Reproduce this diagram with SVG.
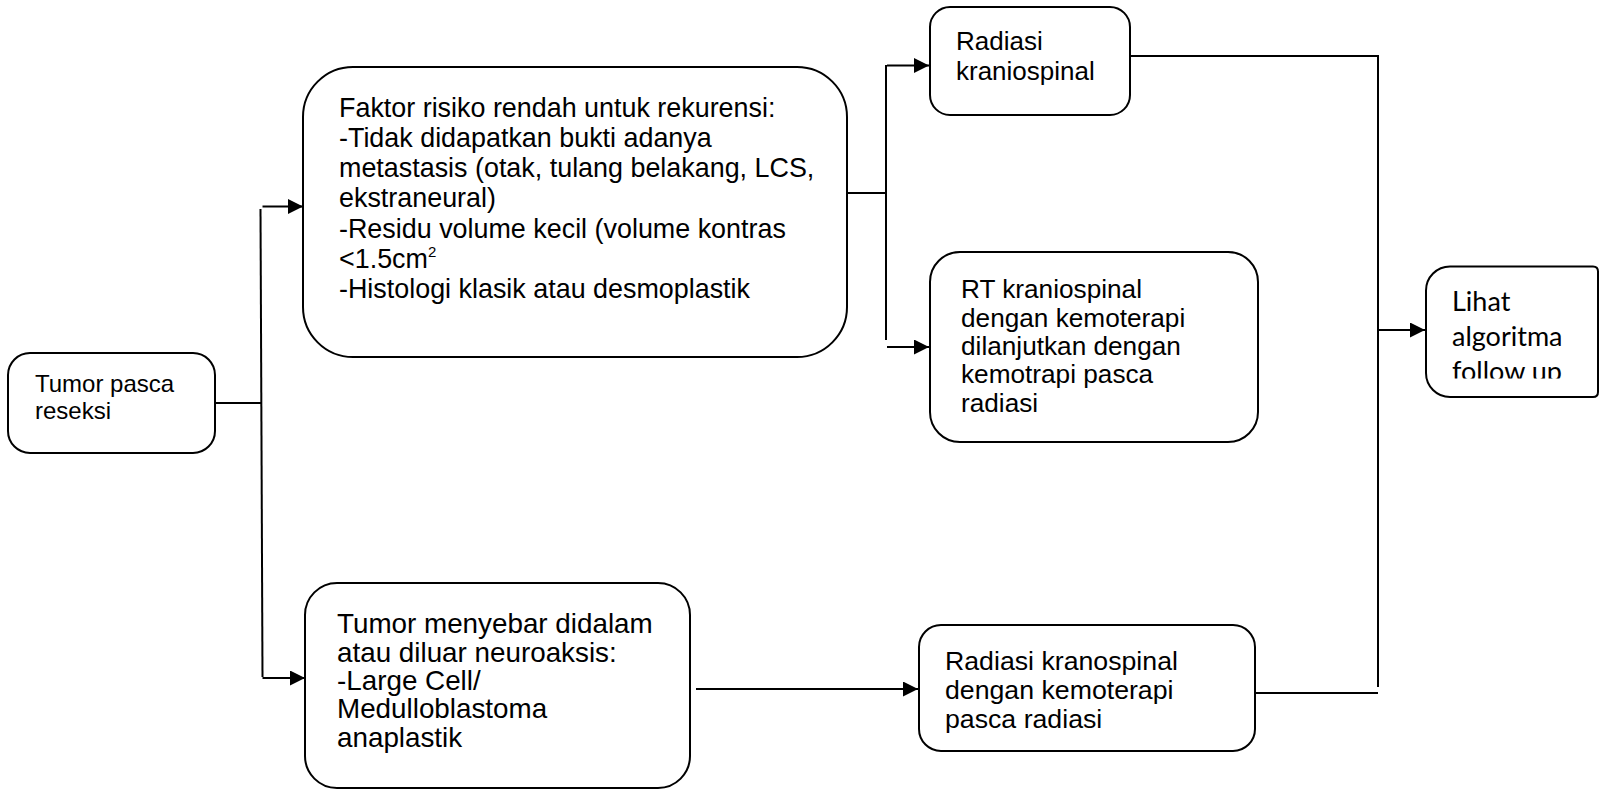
<svg xmlns="http://www.w3.org/2000/svg" width="1599" height="790" viewBox="0 0 1599 790">
  <style>
    .box { fill: #ffffff; stroke: #000000; stroke-width: 2; }
    .lbl { font-family: "Liberation Sans", Arial, sans-serif; fill: #000000; }
    .s24 { font-size: 24px; }
    .s26 { font-size: 26px; }
    .s262 { font-size: 26.2px; }
    .s267 { font-size: 26.7px; }
    .s269 { font-size: 26.9px; }
    .s278 { font-size: 27.8px; }
    .sup { font-size: 15px; }
    .cal { font-family: Lato, "Open Sans", sans-serif; font-size: 27px; fill: #000000; }
    .wire { fill: none; stroke: #000000; stroke-width: 2; }
    .arrow { fill: none; stroke: #000000; stroke-width: 2; marker-end: url(#head); }
  </style>
  <defs>
    <marker id="head" markerUnits="userSpaceOnUse" markerWidth="16" markerHeight="16" refX="15" refY="7.5" orient="auto">
      <path d="M0,0 L15,7.5 L0,15 Z" fill="#000000"/>
    </marker>
    <clipPath id="followClip">
      <rect x="1426" y="266" width="173" height="112.5"/>
    </clipPath>
  </defs>
  <rect width="1599" height="790" fill="#ffffff"/>

  <!-- connectors -->
  <g id="connectors">
    <line class="wire" x1="215" y1="403" x2="261.5" y2="403"/>
    <line class="wire" x1="260.5" y1="209" x2="262.5" y2="677"/>
    <line class="arrow" x1="262.5" y1="206.5" x2="303" y2="206.5"/>
    <line class="arrow" x1="262.5" y1="678" x2="305" y2="678"/>
    <line class="wire" x1="843" y1="193" x2="886" y2="193"/>
    <line class="wire" x1="886" y1="65" x2="886" y2="340"/>
    <line class="arrow" x1="887" y1="65.5" x2="929" y2="65.5"/>
    <line class="arrow" x1="887" y1="347" x2="929" y2="347"/>
    <line class="arrow" x1="696" y1="689" x2="918" y2="689"/>
    <polyline class="wire" points="1131,56 1378,56 1378,687"/>
    <line class="wire" x1="1251" y1="693" x2="1378" y2="693"/>
    <line class="arrow" x1="1379" y1="330" x2="1425" y2="330"/>
  </g>

  <g id="tumor-pasca-reseksi">
    <rect class="box" x="8" y="353" width="207" height="100" rx="22" ry="22"/>
    <text class="lbl s24" x="35" y="392">Tumor pasca</text>
    <text class="lbl s24" x="35" y="419">reseksi</text>
  </g>

  <g id="faktor-risiko-rendah">
    <rect class="box" x="303" y="67" width="544" height="290" rx="50" ry="50"/>
    <text class="lbl s269" x="339" y="117">Faktor risiko rendah untuk rekurensi:</text>
    <text class="lbl s269" x="339" y="147">-Tidak didapatkan bukti adanya</text>
    <text class="lbl s269" x="339" y="177">metastasis (otak, tulang belakang, LCS,</text>
    <text class="lbl s269" x="339" y="207">ekstraneural)</text>
    <text class="lbl s269" x="339" y="238">-Residu volume kecil (volume kontras</text>
    <text class="lbl s269" x="339" y="268">&lt;1.5cm<tspan class="sup" dy="-11">2</tspan></text>
    <text class="lbl s269" x="339" y="298">-Histologi klasik atau desmoplastik</text>
  </g>

  <g id="tumor-menyebar">
    <rect class="box" x="305" y="583" width="385" height="205" rx="32" ry="32"/>
    <text class="lbl s278" x="337" y="633">Tumor menyebar didalam</text>
    <text class="lbl s278" x="337" y="662">atau diluar neuroaksis:</text>
    <text class="lbl s278" x="337" y="690">-Large Cell/</text>
    <text class="lbl s278" x="337" y="718">Medulloblastoma</text>
    <text class="lbl s278" x="337" y="747">anaplastik</text>
  </g>

  <g id="radiasi-kraniospinal">
    <rect class="box" x="930" y="7" width="200" height="108" rx="20" ry="20"/>
    <text class="lbl s26" x="956" y="50">Radiasi</text>
    <text class="lbl s26" x="956" y="80">kraniospinal</text>
  </g>

  <g id="rt-kraniospinal">
    <rect class="box" x="930" y="252" width="328" height="190" rx="30" ry="30"/>
    <text class="lbl s262" x="961" y="298">RT kraniospinal</text>
    <text class="lbl s262" x="961" y="327">dengan kemoterapi</text>
    <text class="lbl s262" x="961" y="355">dilanjutkan dengan</text>
    <text class="lbl s262" x="961" y="383">kemotrapi pasca</text>
    <text class="lbl s262" x="961" y="412">radiasi</text>
  </g>

  <g id="radiasi-kranospinal">
    <rect class="box" x="919" y="625" width="336" height="126" rx="22" ry="22"/>
    <text class="lbl s267" x="945" y="670">Radiasi kranospinal</text>
    <text class="lbl s267" x="945" y="699">dengan kemoterapi</text>
    <text class="lbl s267" x="945" y="728">pasca radiasi</text>
  </g>

  <g id="lihat-algoritma">
    <path class="box" d="M1450,266.5 H1593 Q1598,266.5 1598,271.5 V392 Q1598,397 1593,397 H1450 A24,24 0 0 1 1426,373 V290.5 A24,24 0 0 1 1450,266.5 Z"/>
    <g clip-path="url(#followClip)">
      <text class="cal" x="1452" y="311">Lihat</text>
      <text class="cal" x="1452" y="346">algoritma</text>
      <text class="cal" x="1452" y="381">follow up</text>
    </g>
  </g>
</svg>
